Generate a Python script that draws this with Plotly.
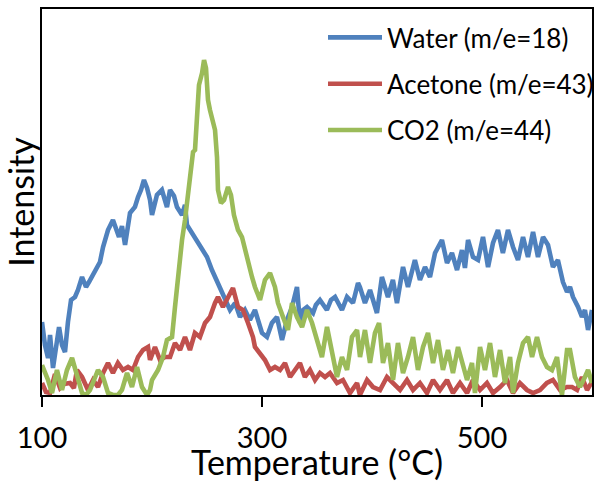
import plotly.graph_objects as go

# Water (m/e=18)
water_T = [100, 102.7, 105.5, 107.3, 110, 112.7, 115.5, 118.2, 120.9, 123.6, 126.4, 130, 132.7, 136.4, 140, 142.7,
           145.5, 150, 152.7, 155.5, 160, 164.5, 167.3, 170, 172.7, 175.5, 180, 184.5, 187.3, 190, 192.7, 195.5,
           198.2, 200, 204.5, 209, 213.6, 216.4, 220, 222.7, 227.3, 230, 231.8, 236.4, 240.9, 245.5, 250, 254.5,
           257.3, 261.8, 266.4, 270.9, 275.5, 280, 284.5, 289, 293.6, 295.5, 300, 304.5, 309, 313.6, 318.2, 322.7,
           327.3, 331.8, 334.5, 337.3, 340.9, 346.4, 349, 352.7, 359, 362.7, 366.4, 372.7, 377.3, 382.7, 387.3, 389,
           393.6, 398.2, 401.8, 404.5, 409, 414.5, 419, 422.7, 428.2, 432.7, 439, 443.6, 448.2, 452.7, 457.3, 463.6,
           468.2, 472.7, 477.3, 481.8, 484.5, 487.3, 491.8, 496.4, 500.9, 505.5, 510, 514.5, 519, 523.6, 528.2,
           532.7, 537.3, 541.8, 546.4, 550.9, 555.5, 560, 564.5, 569, 573.6, 577.3, 580, 582.7, 587.3, 590.9, 593.6,
           596.4, 600]
water = [73, 50, 37, 60, 27, 50, 68, 50, 43, 73, 95, 98, 105, 118, 108, 113,
         118, 128, 133, 148, 165, 175, 167, 158, 169, 150, 182, 188, 198, 205, 215, 207,
         195, 180, 200, 205, 188, 205, 199, 188, 180, 190, 170, 162, 153, 145, 138, 125,
         118, 105, 95, 85, 92, 78, 85, 75, 85, 78, 62, 58, 72, 78, 55, 75,
         88, 108, 72, 85, 88, 82, 90, 95, 85, 95, 98, 85, 98, 92, 112, 108,
         92, 105, 90, 82, 118, 98, 115, 92, 128, 108, 135, 115, 128, 118, 142, 155,
         132, 142, 125, 145, 127, 155, 138, 135, 158, 128, 152, 165, 142, 165, 148,
         135, 158, 138, 163, 138, 158, 150, 128, 135, 113, 103, 108, 98, 88, 78, 85,
         65, 85]

# Acetone (m/e=43)
acetone_T = [100, 103.6, 107.3, 111.8, 116.4, 120, 125.5, 129, 131.8, 136.4, 141.8, 146.4, 150.9, 155.5, 160, 164.5,
             169, 173.6, 178.2, 182.7, 187.3, 191.8, 196.4, 198.2, 202.7, 207.3, 211.8, 216.4, 220.9, 225.5, 230,
             234.5, 239, 243.6, 248.2, 252.7, 257.3, 260, 264.5, 269.1, 273.6, 278.2, 282.7, 287.3, 291.8, 293.6,
             298.2, 302.7, 307.3, 311.8, 316.4, 320.9, 325.5, 330, 334.5, 339, 343.6, 348.2, 352.7, 357.3, 361.8,
             368.2, 373.6, 380, 386.4, 389, 395.5, 400.9, 407.3, 413.6, 419, 425.5, 431.8, 437.3, 443.6, 450, 455.5,
             461.8, 468.2, 473.6, 480, 486.4, 491.8, 498.2, 504.5, 510, 516.4, 522.7, 528.2, 534.5, 540.9, 546.4,
             552.7, 559, 564.5, 570.9, 577.3, 581.8, 586.4, 590.9, 595.5, 600]
acetone = [12, 3, 2, 21, 7, 11, 12, 7, 25, 18, 5, 15, 8, 22, 32, 22,
           32, 25, 28, 25, 38, 45, 48, 35, 48, 35, 38, 38, 52, 45, 58,
           45, 62, 58, 72, 78, 92, 98, 88, 98, 107, 88, 85, 72, 58, 48,
           42, 35, 25, 28, 25, 32, 18, 25, 32, 18, 25, 15, 22, 18, 22,
           12, 15, 2, 12, 0, 15, 8, 5, 18, 12, 5, 15, 5, 12, 2, 15,
           5, 15, 2, 12, 2, 15, 5, 12, 2, 8, 15, 2, 12, 5, 2,
           5, 12, 15, 5, 8, 8, 5, 18, 5, 13]

# CO2 (m/e=44)
co2_T = [100, 102.7, 105.5, 109.1, 113.6, 118.2, 122.7, 127.3, 131.8, 136.4, 140, 143.6, 147.3, 150.9, 155.5, 160,
         164.5, 169, 172.7, 177.3, 181.8, 186.4, 190.9, 195.5, 198.2, 200, 205.5, 210, 213.6, 218.2, 220.9, 223.6,
         227.3, 230, 232.7, 235.5, 237.3, 239.1, 240.9, 242.7, 245.5, 247.3, 249.1, 250, 250.9, 252.7, 254.5,
         257.3, 259.1, 260, 262.7, 265.5, 269.1, 271.8, 274.5, 278.2, 281.8, 284.5, 287.3, 290.9, 293.6, 298.2,
         302.7, 307.3, 311.8, 314.5, 319.1, 323.6, 327.3, 331.8, 336.4, 340.9, 345.5, 350, 354.5, 359.1, 363.6,
         368.2, 372.7, 377.3, 381.8, 386.4, 389.1, 393.6, 398.2, 402.7, 406.4, 410, 414.5, 419.1, 423.6, 428.2,
         432.7, 437.3, 441.8, 446.4, 450.9, 455.5, 460, 464.5, 469.1, 473.6, 478.2, 482.7, 486.4, 490.9, 493.6,
         498.2, 502.7, 507.3, 511.8, 516.4, 520.9, 525.5, 528.2, 532.7, 537.3, 541.8, 545.5, 550, 554.5, 559.1,
         563.6, 568.2, 572.7, 577.3, 580, 584.5, 589.1, 593.6, 596.4, 600]
co2 = [30, 23, 15, 2, 25, 5, 25, 37, 18, 2, 0, 5, 15, 25, 18, 2,
       0, 0, 5, 22, 8, 28, 8, 0, 5, 15, 25, 38, 55, 58, 88, 120,
       155, 175, 200, 220, 243, 245, 278, 310, 322, 335, 327, 315, 295, 285, 277,
       265, 238, 205, 192, 195, 208, 200, 180, 165, 158, 145, 132, 118, 108, 95,
       115, 122, 108, 92, 78, 65, 92, 78, 68, 85, 72, 55, 38, 68, 45,
       18, 38, 25, 58, 65, 38, 65, 32, 62, 72, 32, 52, 15, 52, 22,
       38, 58, 25, 48, 62, 32, 55, 25, 45, 22, 48, 28, 15, 32, 2,
       48, 25, 52, 18, 45, 12, 38, 2, 32, 52, 58, 38, 58, 38, 28,
       25, 38, 0, 45, 45, 18, 8, 18, 25, 12]

x_ticks = [100, 300, 500]

FONT = "Lato"

fig = go.Figure()
series = [
    ("Water (m/e=18)", water_T, water, "#4F81BD"),
    ("Acetone (m/e=43)", acetone_T, acetone, "#C0504D"),
    ("CO2 (m/e=44)", co2_T, co2, "#9BBB59"),
]
for name, xs, ys, col in series:
    fig.add_trace(go.Scatter(x=xs, y=ys, mode="lines", name=name, legendgroup=name,
                             line=dict(color=col, width=4.6)))

fig.update_layout(
    width=598, height=482,
    margin=dict(l=42, r=6, t=9, b=87, autoexpand=False),
    paper_bgcolor="white", plot_bgcolor="white",
    font=dict(family=FONT, color="black"),
    showlegend=True,
    legend=dict(x=(384 - 61 - 42) / 550, xanchor="left", y=(395 - 14) / 386, yanchor="top",
                itemwidth=54,
                font=dict(size=26, family=FONT), tracegroupgap=9.5, bgcolor="rgba(0,0,0,0)"),
    xaxis=dict(range=[100, 600], tickvals=x_ticks, ticks="outside", ticklen=10, tickwidth=2,
               tickcolor="black", showline=True, linecolor="black", linewidth=2, mirror=True,
               showgrid=False, zeroline=False, tickfont=dict(size=29, family=FONT),
               ticklabelstandoff=6,
               title=dict(text="Temperature (°C)", font=dict(size=34, family=FONT), standoff=3)),
    yaxis=dict(range=[0, 386], showticklabels=False, ticks="", showline=True, linecolor="black",
               linewidth=2, mirror=True, showgrid=False, zeroline=False,
               title=dict(text="Intensity", font=dict(size=34, family=FONT), standoff=4)),
)

fig.write_html("out.html")
